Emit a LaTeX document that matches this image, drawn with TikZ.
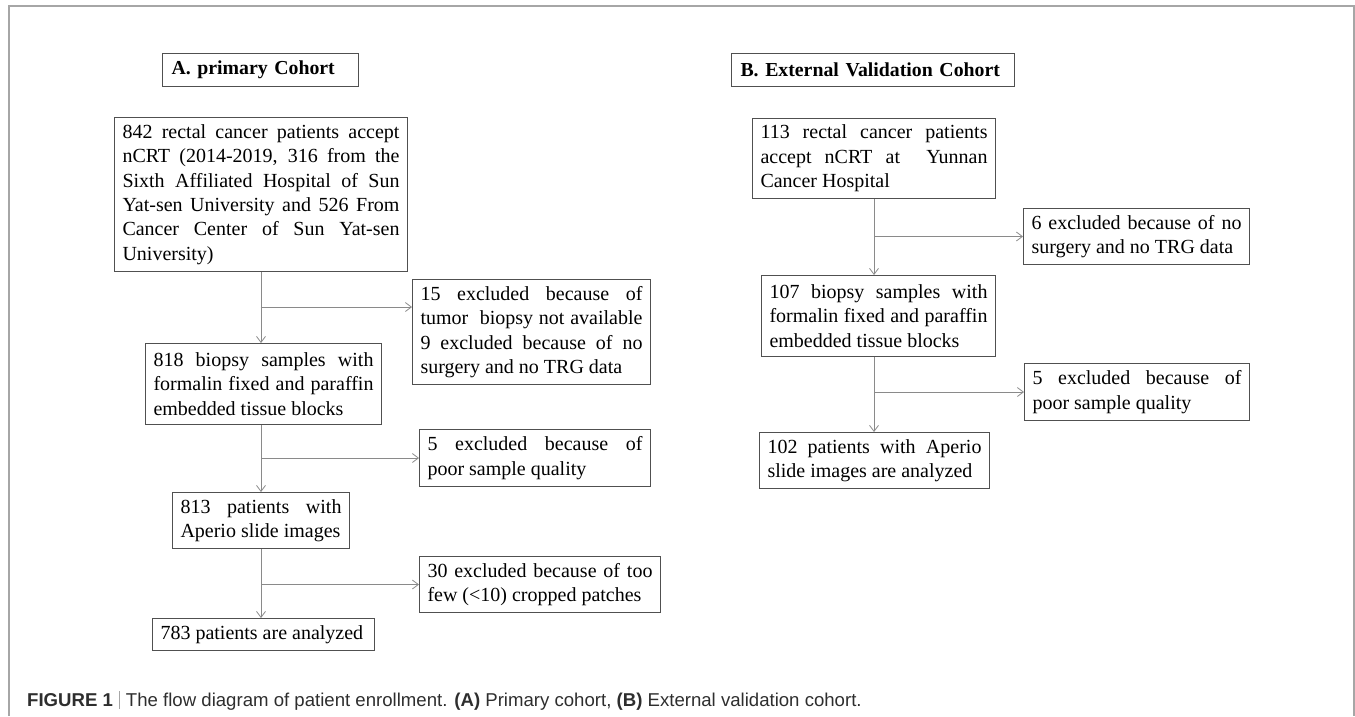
\documentclass[tikz,border=0pt]{standalone}
\usepackage{fontspec}
\setmainfont{Liberation Serif}
\newfontfamily\capfont{Liberation Sans}
\usetikzlibrary{arrows.meta}
\definecolor{boxgray}{HTML}{505050}
\definecolor{arrgray}{HTML}{8A8A8A}
\definecolor{framegray}{HTML}{A6A6A6}
\definecolor{capgray}{HTML}{2E2E2E}
\tolerance=9999
\hyphenpenalty=10000

\begin{document}
\begin{tikzpicture}[x=1pt, y=-1pt,
arr/.style ={draw=arrgray, line width=0.8pt, -{Straight Barb[length=6pt,width=9pt]}},
box/.style ={draw=boxgray, line width=1pt, anchor=north west, inner xsep=8pt,
  inner ysep=4pt, align=justify, font=\fontsize{20}{24.4}\selectfont},
title/.style ={box, align=left, inner xsep=9pt, font=\fontsize{19.8}{24.4}\selectfont\bfseries}]
\useasboundingbox (0,0) rectangle (1355,716);
\draw[framegray, line width=1.5pt] (9,716) -- (9,6) -- (1354,6) -- (1354,716);

% A. primary cohort
\node[title, text width=178pt, minimum height=33pt] (TA) at (162,53) {A. primary Cohort};
\node[box, text width=277pt, minimum height=154pt] (A1) at (114,117) {842 rectal cancer patients accept\linebreak nCRT (2014-2019, 316 from the\linebreak Sixth Affiliated Hospital of Sun\linebreak Yat-sen University and 526 From\linebreak Cancer Center of Sun Yat-sen\linebreak University)};
\node[box, text width=222pt, minimum height=105pt] (X1) at (412,279) {15 excluded because of\linebreak tumor\ \ biopsy not available\linebreak 9 excluded because of no\linebreak surgery and no TRG data};
\node[box, text width=220pt, minimum height=81pt] (A2) at (145,343) {818 biopsy samples with\linebreak formalin fixed and paraffin\linebreak embedded tissue blocks};
\node[box, text width=215pt, minimum height=57pt] (X2) at (419,429) {5 excluded because of\linebreak poor sample quality};
\node[box, text width=161pt, minimum height=56pt] (A3) at (172,492) {813 patients with\linebreak Aperio slide images};
\node[box, text width=225pt, minimum height=56pt] (X3) at (419,556) {30 excluded because of too\linebreak few (<10) cropped patches};
\node[box, text width=206pt, minimum height=32pt] (A4) at (152,618) {783 patients are analyzed};

\coordinate (b1) at (260.5,307);
\draw[arr] (A1.south) -- (A1.south |- A2.north);
\draw[arr] (b1) -- (b1 -| X1.west);
\draw[arr] (A2.south -| A1.south) -- (A1.south |- A3.north);
\draw[arr] (A1.south |- X2.west) -- (X2.west);
\draw[arr] (A3.south -| A1.south) -- (A1.south |- A4.north);
\draw[arr] (A1.south |- X3.west) -- (X3.west);

% B. external validation cohort
\node[title, text width=265pt, minimum height=33pt] (TB) at (731,53) {B. External Validation Cohort};
\node[box, text width=227pt, minimum height=80pt] (B1) at (752,118) {113 rectal cancer patients\linebreak accept nCRT at\ \ Yunnan\linebreak Cancer Hospital};
\node[box, text width=210pt, minimum height=56pt] (Y1) at (1023,208) {6 excluded because of no\linebreak surgery and no TRG data};
\node[box, text width=218pt, minimum height=81pt] (B2) at (761,275) {107 biopsy samples with\linebreak formalin fixed and paraffin\linebreak embedded tissue blocks};
\node[box, text width=209pt, minimum height=57pt] (Y2) at (1024,363) {5 excluded because of\linebreak poor sample quality};
\node[box, text width=214pt, minimum height=56pt] (B3) at (759,432) {102 patients with Aperio\linebreak slide images are analyzed};

\draw[arr] (B1.south) -- (B1.south |- B2.north);
\draw[arr] (B1.south |- Y1.west) -- (Y1.west);
\draw[arr] (B2.south -| B1.south) -- (B1.south |- B3.north);
\draw[arr] (B1.south |- Y2.west) -- (Y2.west);

\node[anchor=base west, inner sep=0pt, text=capgray, font=\capfont\fontsize{18.6}{20}\selectfont] (cap) at (27,706)
  {\textbf{FIGURE 1}\hspace{6pt}\textcolor{framegray}{\rule[-3pt]{1pt}{18pt}}\hspace{6pt}The flow diagram of patient enrollment. \textbf{(A)} Primary cohort, \textbf{(B)} External validation cohort.};
\end{tikzpicture}
\end{document}
